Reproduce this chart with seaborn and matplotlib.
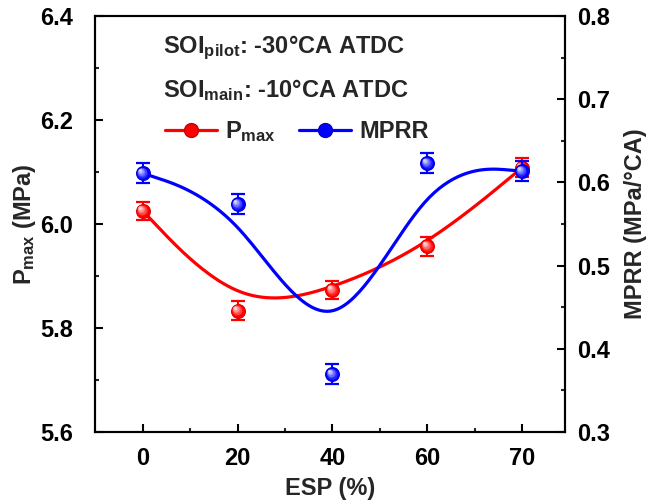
import numpy as np
import pandas as pd
import seaborn as sns
import matplotlib
matplotlib.use("Agg")
import matplotlib.pyplot as plt
from matplotlib import transforms
from matplotlib.lines import Line2D
from matplotlib.ticker import FixedLocator, MultipleLocator

# ---- data ----
esp_labels = ["0", "20", "40", "60", "70"]
pmax = [6.025, 5.833, 5.873, 5.957, 6.108]
pmax_err = [0.018, 0.018, 0.018, 0.018, 0.018]
mprr = [0.611, 0.5735, 0.3695, 0.623, 0.6136]
mprr_err = [0.012, 0.012, 0.012, 0.012, 0.012]

sns.set_theme(style="ticks")
plt.rcParams["font.family"] = ["Liberation Sans", "DejaVu Sans"]
plt.rcParams["font.weight"] = "bold"
plt.rcParams["axes.labelweight"] = "bold"
plt.rcParams["mathtext.fontset"] = "custom"
plt.rcParams["mathtext.rm"] = "Liberation Sans:bold"
plt.rcParams["mathtext.it"] = "Liberation Sans:bold"
plt.rcParams["mathtext.bf"] = "Liberation Sans:bold"
plt.rcParams["mathtext.sf"] = "Liberation Sans:bold"

FS = 17


def bspline(xs, ys, n=40):
    """Uniform cubic B-spline with triple end control points."""
    xs = np.asarray(xs, float)
    ys = np.asarray(ys, float)
    px = np.r_[xs[0], xs[0], xs, xs[-1], xs[-1]]
    py = np.r_[ys[0], ys[0], ys, ys[-1], ys[-1]]
    outx, outy = [], []
    t = np.linspace(0, 1, n)
    b0 = (1 - t) ** 3 / 6
    b1 = (3 * t**3 - 6 * t**2 + 4) / 6
    b2 = (-3 * t**3 + 3 * t**2 + 3 * t + 1) / 6
    b3 = t**3 / 6
    for i in range(len(px) - 3):
        outx.append(b0 * px[i] + b1 * px[i + 1] + b2 * px[i + 2] + b3 * px[i + 3])
        outy.append(b0 * py[i] + b1 * py[i + 1] + b2 * py[i + 2] + b3 * py[i + 3])
    return np.concatenate(outx), np.concatenate(outy)


def shaded_markers(ax, fig, x, y, color, ms=10.8, zorder=5):
    base = np.array(matplotlib.colors.to_rgb(color))
    white = np.array([1.0, 1.0, 1.0])
    ax.plot(x, y, ls="none", marker="o", ms=ms, mfc=base * 0.85, mec="none", zorder=zorder)
    ax.plot(x, y, ls="none", marker="o", ms=ms * 0.9, mfc=base, mec="none", zorder=zorder)
    nl = 6
    for k in range(1, nl + 1):
        f = k / nl
        size = ms * (0.8 - 0.62 * f)
        col = base * (1 - 0.85 * f) + white * 0.85 * f
        off = 2.2 * f
        tr = transforms.offset_copy(ax.transData, fig=fig, x=-off, y=off, units="points")
        ax.plot(x, y, ls="none", marker="o", ms=size, mfc=col, mec="none",
                transform=tr, zorder=zorder + 0.01 * k)


fig = plt.figure(figsize=(6.66, 5.04), dpi=100)
ax = fig.add_axes([95 / 666, 1 - 432 / 504, 470 / 666, 416 / 504])
ax2 = ax.twinx()

xpos = np.arange(len(esp_labels))

# Pmax (left axis)
sx, sy = bspline(xpos, pmax)
sns.lineplot(x=sx, y=sy, ax=ax, color="#FF0000", lw=2.3, sort=False, zorder=3)
ax.errorbar(xpos, pmax, yerr=pmax_err, fmt="none", ecolor="#FF0000",
            elinewidth=1.5, capsize=4.7, capthick=1.6, zorder=4)
shaded_markers(ax, fig, xpos, pmax, "#FF0000")

# MPRR (right axis)
bx, by = bspline(xpos, mprr)
sns.lineplot(x=bx, y=by, ax=ax2, color="#0000FF", lw=2.3, sort=False, zorder=3)
ax2.errorbar(xpos, mprr, yerr=mprr_err, fmt="none", ecolor="#0000FF",
             elinewidth=1.5, capsize=4.7, capthick=1.6, zorder=4)
shaded_markers(ax2, fig, xpos, mprr, "#0000FF")

# axes limits / ticks
ax.set_xlim(-0.505, 4.455)
ax.set_ylim(5.6, 6.4)
ax2.set_ylim(0.3, 0.8)
ax.set_xticks(xpos)
ax.set_xticklabels(esp_labels)
ax.xaxis.set_minor_locator(FixedLocator([0.5, 1.5, 2.5, 3.5]))
ax.set_yticks([5.6, 5.8, 6.0, 6.2, 6.4])
ax.yaxis.set_minor_locator(MultipleLocator(0.1))
ax2.set_yticks([0.3, 0.4, 0.5, 0.6, 0.7, 0.8])
ax2.yaxis.set_minor_locator(MultipleLocator(0.05))
ax.yaxis.set_major_formatter(matplotlib.ticker.FormatStrFormatter("%.1f"))
ax2.yaxis.set_major_formatter(matplotlib.ticker.FormatStrFormatter("%.1f"))

for a in (ax, ax2):
    for s in a.spines.values():
        s.set_linewidth(1.5)
        s.set_color("black")
    a.tick_params(which="major", direction="in", length=6, width=1.5, labelsize=FS, colors="black")
    a.tick_params(which="minor", direction="in", length=3.2, width=1.5)
ax.tick_params(axis="both", which="both", top=False, right=False)
ax.tick_params(axis="y", which="major", pad=16)
ax.tick_params(axis="x", which="major", pad=11)
ax2.tick_params(axis="y", which="both", left=False, right=True)
ax2.tick_params(axis="y", which="major", pad=9)
for lab in ax.get_xticklabels() + ax.get_yticklabels() + ax2.get_yticklabels():
    lab.set_fontweight("bold")

ax.set_xlabel("ESP (%)", fontsize=FS, fontweight="bold", labelpad=5)
ax.set_ylabel(r"P$_{max}$ (MPa)", fontsize=FS, fontweight="bold", labelpad=1)
ax2.set_ylabel("MPRR (MPa/°CA)", fontsize=FS, fontweight="bold", labelpad=10)

# annotations
ax.text(0.145, 0.911, r"SOI$_{pilot}$: -30°CA ATDC", transform=ax.transAxes,
        fontsize=FS, fontweight="bold", va="baseline", ha="left")
ax.text(0.145, 0.805, r"SOI$_{main}$: -10°CA ATDC", transform=ax.transAxes,
        fontsize=FS, fontweight="bold", va="baseline", ha="left")

# legend
h1 = Line2D([], [], color="#FF0000", lw=2.3, marker="o", ms=10, mfc="#FF0000", mec="#CC0000")
h2 = Line2D([], [], color="#0000FF", lw=2.3, marker="o", ms=10, mfc="#0000FF", mec="#0000CC")
leg = ax2.legend([h1, h2], [r"P$_{max}$", "MPRR"], loc="center left",
                 bbox_to_anchor=(0.148, 0.723), ncol=2, frameon=False,
                 fontsize=FS, handlelength=2.2, handletextpad=0.35,
                 columnspacing=1.0, borderpad=0, borderaxespad=0)
for t in leg.get_texts():
    t.set_fontweight("bold")

fig.savefig("out.png", dpi=100)
